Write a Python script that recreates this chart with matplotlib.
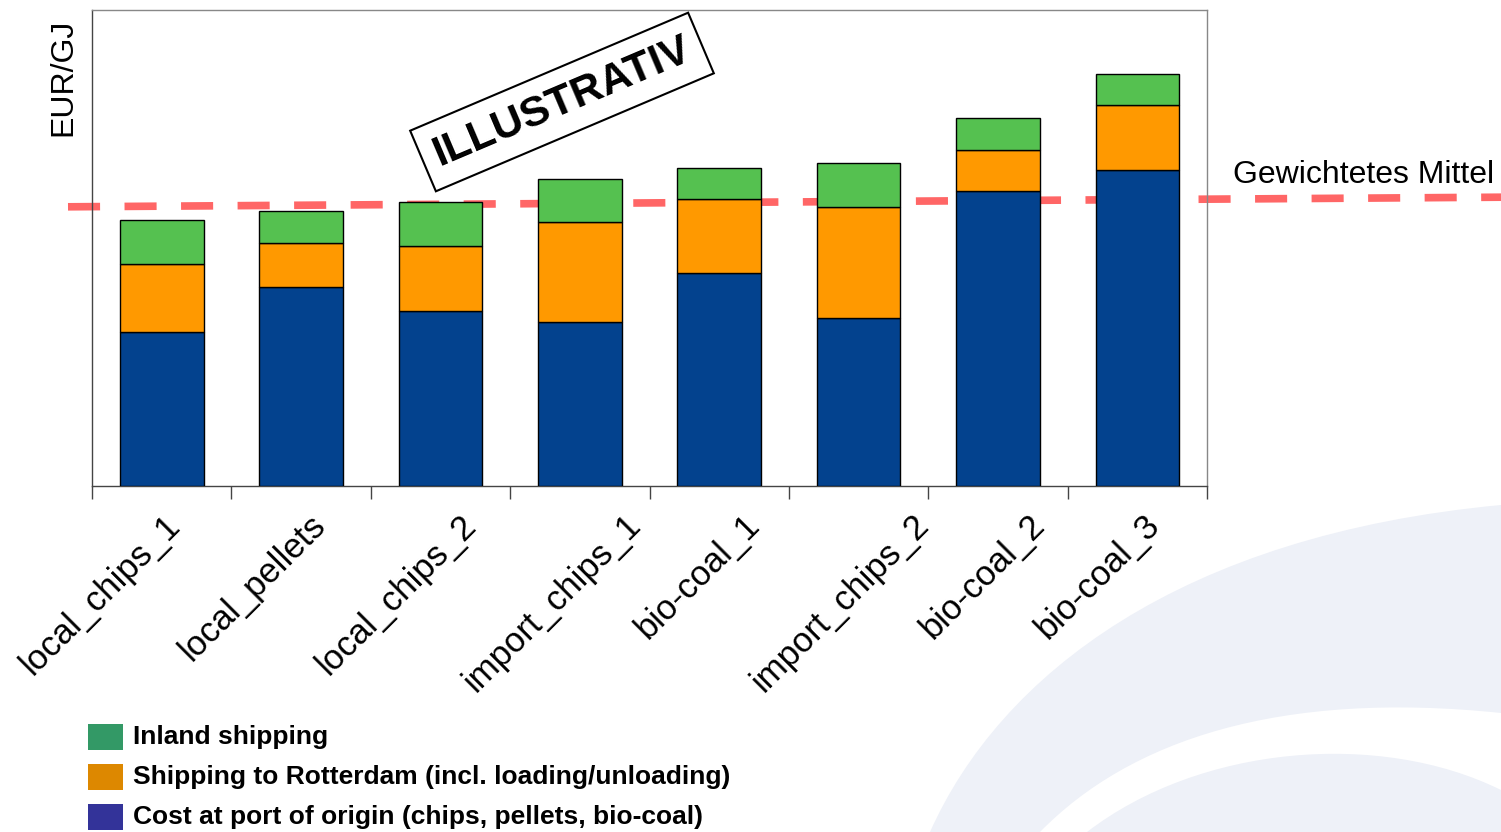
import matplotlib
matplotlib.use("Agg")
import matplotlib.pyplot as plt
import matplotlib.transforms as mtransforms
from matplotlib.patches import Rectangle, PathPatch
from matplotlib.path import Path

plt.rcParams['font.family'] = ['Liberation Sans', 'DejaVu Sans']

# --- data -------------------------------------------------------------
categories = ['local_chips_1', 'local_pellets', 'local_chips_2', 'import_chips_1',
              'bio-coal_1', 'import_chips_2', 'bio-coal_2', 'bio-coal_3']
cost_origin = [3.85, 4.98, 4.38, 4.10, 5.33, 4.20, 7.38, 7.90]
shipping_rotterdam = [1.70, 1.10, 1.63, 2.50, 1.85, 2.78, 1.03, 1.63]
inland_shipping = [1.10, 0.80, 1.10, 1.08, 0.78, 1.10, 0.80, 0.78]
weighted_mean = [6.98, 7.22]          # start / end level of the reference line
y_max = 11.9

legend_labels = ['Inland shipping',
                 'Shipping to Rotterdam (incl. loading/unloading)',
                 'Cost at port of origin (chips, pellets, bio-coal)']

# --- style ------------------------------------------------------------
c_blue, c_orange, c_green = '#03428e', '#ff9900', '#55c150'
leg_colors = ['#339966', '#dd8800', '#333399']
W, H = 1501, 832
fig = plt.figure(figsize=(W / 100, H / 100), dpi=100)

# decorative watermark in the lower right (pixel coordinates)
bg = fig.add_axes([0, 0, 1, 1], zorder=0)
bg.set_xlim(0, W)
bg.set_ylim(H, 0)
bg.axis('off')
wm = '#eef1f8'
C4, L2 = Path.CURVE4, Path.LINETO
outer = Path([(930, 832), (1000, 675), (1180, 535), (1501, 505),
              (1501, 832), (930, 832)],
             [Path.MOVETO, C4, C4, C4, L2, Path.CLOSEPOLY])
bg.add_patch(PathPatch(outer, fc=wm, ec='none'))
band = Path([(1040, 832), (1130, 740), (1280, 690), (1501, 713),
             (1501, 790), (1380, 730), (1200, 745), (1087, 832),
             (1040, 832)],
            [Path.MOVETO, C4, C4, C4, L2, C4, C4, C4, Path.CLOSEPOLY])
bg.add_patch(PathPatch(band, fc='white', ec='none'))

# main chart
ax = fig.add_axes([92 / W, 1 - 486 / H, 1115 / W, 476 / H], zorder=1)
x = list(range(len(categories)))
bw = 0.6
ax.bar(x, cost_origin, bw, color=c_blue, edgecolor='black', lw=1.0, zorder=3)
ax.bar(x, shipping_rotterdam, bw, bottom=cost_origin, color=c_orange,
       edgecolor='black', lw=1.0, zorder=3)
bottom3 = [a + b for a, b in zip(cost_origin, shipping_rotterdam)]
ax.bar(x, inland_shipping, bw, bottom=bottom3, color=c_green,
       edgecolor='black', lw=1.0, zorder=3)

ax.set_xlim(-0.5, len(categories) - 0.5)
ax.set_ylim(0, y_max)

# weighted mean, running past the plot area to the right
x0 = -0.5 - 24 / 139.375
x1 = -0.5 + (W - 92) / 139.375
ln, = ax.plot([x0, x1], weighted_mean, color='#ff6666', lw=5.5,
              solid_capstyle='butt', dash_capstyle='butt', clip_on=False, zorder=2)
ln.set_dashes((4.2, 3.2))
fig.text(1233 / W, 1 - 183 / H, 'Gewichtetes Mittel', fontsize=23,
         ha='left', va='baseline')

# spines and ticks
for s in ['top', 'right']:
    ax.spines[s].set_color('#888888')
for s in ['left', 'bottom']:
    ax.spines[s].set_color('#444444')
for s in ax.spines.values():
    s.set_linewidth(1.0)
ax.set_yticks([])
ax.set_xticks(x)
ax.set_xticks([i - 0.5 for i in range(len(categories) + 1)], minor=True)
ax.tick_params(axis='x', which='major', length=0, pad=16)
ax.tick_params(axis='x', which='minor', length=9, width=1.0, color='#444444')
ax.set_xticklabels(categories, rotation=45, ha='right', va='top',
                   rotation_mode='anchor', fontsize=25)
label_shift = [2, 8, 19, 44, 24, 54, 30, 6]
for lab, dx in zip(ax.get_xticklabels(), label_shift):
    lab.set_transform(lab.get_transform() +
                      mtransforms.ScaledTranslation(dx / 100, 0, fig.dpi_scale_trans))

fig.text(63 / W, 1 - 77 / H, 'EUR/GJ', fontsize=23, rotation=90,
         ha='center', va='center')

# stamp
ax.text(562 / W, 1 - 102 / H, 'ILLUSTRATIV', transform=fig.transFigure,
        fontsize=31, fontweight='bold', rotation=23, ha='center', va='center',
        rotation_mode='anchor', zorder=5,
        bbox=dict(boxstyle='square,pad=0.3', fc='white', ec='black', lw=1.5))

# legend
for i, (lbl, col) in enumerate(zip(legend_labels, leg_colors)):
    yc = 737 + i * 40
    bg.add_patch(Rectangle((88, yc - 13), 35, 26, color=col, lw=0, zorder=3))
    bg.text(133, yc, lbl, fontsize=19, fontweight='bold', ha='left',
            va='center', zorder=3)

fig.savefig('out.png', dpi=100)
